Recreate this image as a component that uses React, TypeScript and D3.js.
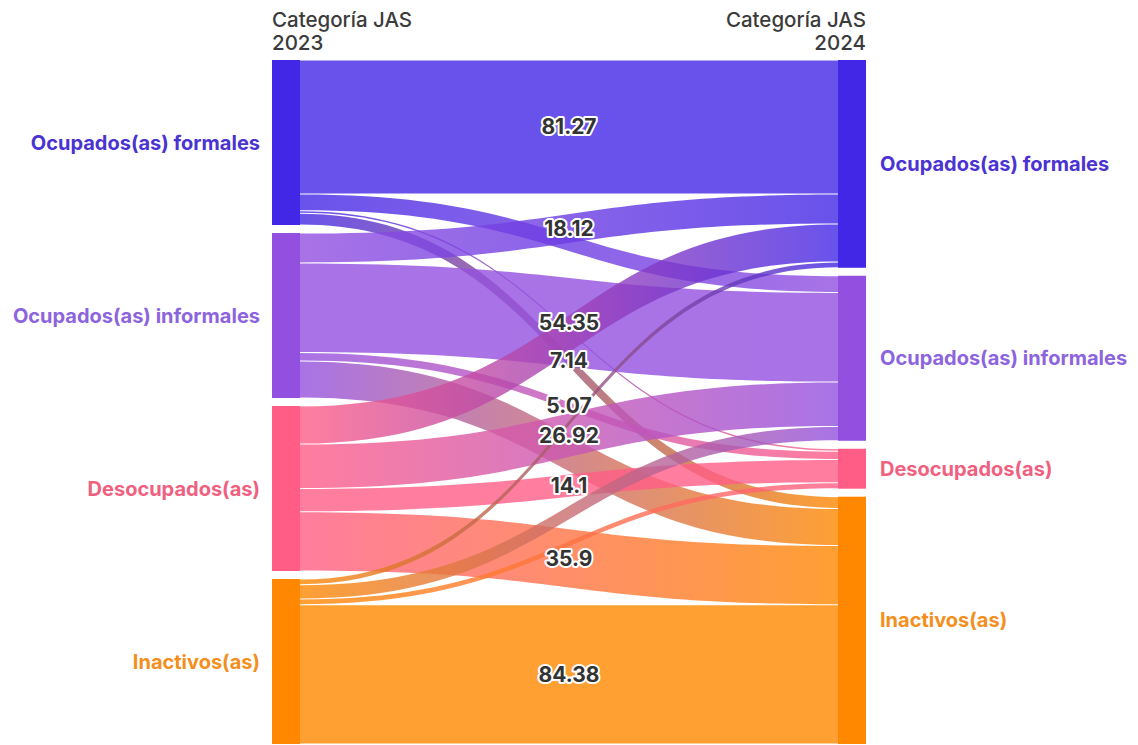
import React from "react";
import * as d3 from "d3";

// ---- Data ----
const categories = [
  "Ocupados(as) formales",
  "Ocupados(as) informales",
  "Desocupados(as)",
  "Inactivos(as)",
];
// Flow values (% of 2023 category) to each 2024 category, in category order
const fromFormales = [81.27, 10.09, 1.5, 7.14];
const fromInformales = [18.12, 54.35, 5.07, 22.46];
const fromDesocupados = [23.08, 26.92, 14.1, 35.9];
const fromInactivos = [3.45, 8.64, 3.53, 84.38];
const flowMatrix = [fromFormales, fromInformales, fromDesocupados, fromInactivos];

const leftTitle = ["Categoría JAS", "2023"];
const rightTitle = ["Categoría JAS", "2024"];

// ---- Styles ----
const nodeColors = ["#4327e6", "#9350e0", "#ff5d86", "#ff8800"];
const labelColors = ["#4a33d2", "#8c64de", "#f0607f", "#f38f1d"];
const W = 1138;
const H = 745;
const top = 60;
const bottom = 744;
const pad = 8;
const xL = 272;
const xR = 838;
const nodeW = 28;
const FONT = "Inter, 'Open Sans', sans-serif";

export default function App() {
  const n = categories.length;
  const leftTotals = flowMatrix.map((r) => d3.sum(r));
  const rightTotals = categories.map((_, j) => d3.sum(flowMatrix, (r) => r[j]));
  const maxTotal = Math.max(d3.sum(leftTotals), d3.sum(rightTotals));
  const k = d3
    .scaleLinear()
    .domain([0, maxTotal])
    .range([0, bottom - top - pad * (n - 1)]);

  const stack = (totals: number[]) => {
    let y = top;
    return totals.map((t) => {
      const y0 = y;
      const y1 = y0 + k(t);
      y = y1 + pad;
      return { y0, y1 };
    });
  };
  const leftNodes = stack(leftTotals);
  const rightNodes = stack(rightTotals);

  // links
  const srcOff = leftNodes.map((d) => d.y0);
  const tgtOff = rightNodes.map((d) => d.y0);
  type L = { s: number; t: number; v: number; sy0: number; sy1: number; ty0: number; ty1: number };
  const links: L[] = [];
  for (let i = 0; i < n; i++) {
    for (let j = 0; j < n; j++) {
      const v = flowMatrix[i][j];
      const h = k(v);
      links.push({ s: i, t: j, v, sy0: srcOff[i], sy1: srcOff[i] + h, ty0: 0, ty1: 0 });
      srcOff[i] += h;
    }
  }
  for (let j = 0; j < n; j++) {
    for (let i = 0; i < n; i++) {
      const l = links.find((d) => d.s === i && d.t === j)!;
      const h = k(l.v);
      l.ty0 = tgtOff[j];
      l.ty1 = tgtOff[j] + h;
      tgtOff[j] += h;
    }
  }

  const x0 = xL + nodeW;
  const x1 = xR;
  const xm = (x0 + x1) / 2;
  const inset = 0.5;
  const linkPath = (l: L) => {
    const a0 = l.sy0 + inset, a1 = l.sy1 - inset;
    const b0 = l.ty0 + inset, b1 = l.ty1 - inset;
    const p = d3.path();
    p.moveTo(x0, a0);
    p.bezierCurveTo(xm, a0, xm, b0, x1, b0);
    p.lineTo(x1, b1);
    p.bezierCurveTo(xm, b1, xm, a1, x0, a1);
    p.closePath();
    return p.toString();
  };

  // label placement: greedy by value, hide overlapping labels
  const sorted = [...links].sort((a, b) => b.v - a.v);
  const kept: { l: L; y: number }[] = [];
  for (const l of sorted) {
    const y = ((l.sy0 + l.sy1) / 2 + (l.ty0 + l.ty1) / 2) / 2;
    if (kept.every((q) => Math.abs(q.y - y) >= 28)) kept.push({ l, y });
  }

  return (
    <div style={{ position: "absolute", left: 0, top: 0 }}>
      <svg width={W} height={H} style={{ display: "block", fontFamily: FONT }}>
        <defs>
          {links.map((l, idx) => (
            <linearGradient key={idx} id={`g${idx}`} gradientUnits="userSpaceOnUse" x1={x0} x2={x1} y1={0} y2={0}>
              <stop offset="0%" stopColor={nodeColors[l.s]} />
              <stop offset="100%" stopColor={nodeColors[l.t]} />
            </linearGradient>
          ))}
        </defs>
        <rect width={W} height={H} fill="#ffffff" />
        {/* titles */}
        <text x={xL} y={27} fontSize={20.5} fontWeight={500} fill="#3b3b3b">{leftTitle[0]}</text>
        <text x={xL} y={50} fontSize={20.5} fontWeight={500} fill="#3b3b3b">{leftTitle[1]}</text>
        <text x={xR + nodeW} y={27} fontSize={20.5} fontWeight={500} fill="#3b3b3b" textAnchor="end">{rightTitle[0]}</text>
        <text x={xR + nodeW} y={50} fontSize={20.5} fontWeight={500} fill="#3b3b3b" textAnchor="end">{rightTitle[1]}</text>
        {/* links */}
        <g>
          {links.map((l, idx) => (
            <path key={idx} d={linkPath(l)} fill={`url(#g${idx})`} fillOpacity={0.8} />
          ))}
        </g>
        {/* nodes */}
        {leftNodes.map((d, i) => (
          <rect key={"l" + i} x={xL} y={d.y0} width={nodeW} height={d.y1 - d.y0} fill={nodeColors[i]} />
        ))}
        {rightNodes.map((d, i) => (
          <rect key={"r" + i} x={xR} y={d.y0} width={nodeW} height={d.y1 - d.y0} fill={nodeColors[i]} />
        ))}
        {/* node labels */}
        {leftNodes.map((d, i) => (
          <text key={"ll" + i} x={xL - 12} y={(d.y0 + d.y1) / 2} dy="0.35em" textAnchor="end"
            fontSize={20} fontWeight={700} fill={labelColors[i]}>
            {categories[i]}
          </text>
        ))}
        {rightNodes.map((d, i) => (
          <text key={"rl" + i} x={xR + nodeW + 14} y={Math.min((d.y0 + d.y1) / 2, H - 10)} dy="0.35em"
            fontSize={20} fontWeight={700} fill={labelColors[i]}>
            {categories[i]}
          </text>
        ))}
        {/* link value labels */}
        {kept.map(({ l, y }, idx) => (
          <text key={"v" + idx} x={xm} y={y} dy="0.35em" textAnchor="middle" fontSize={21} fontWeight={700}
            fill="#333333" stroke="#ffffff" strokeWidth={4} strokeLinejoin="round" paintOrder="stroke">
            {String(l.v)}
          </text>
        ))}
      </svg>
    </div>
  );
}
